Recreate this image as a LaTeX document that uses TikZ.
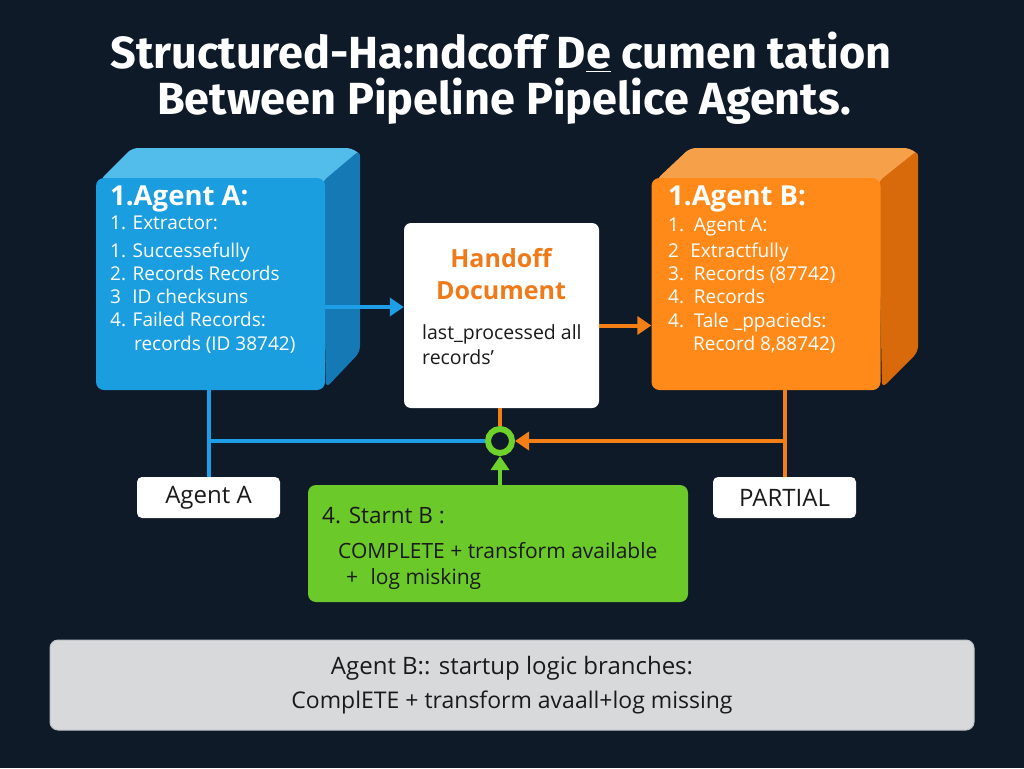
\documentclass[tikz,border=0pt]{standalone}
\usepackage{fontspec}
\setmainfont{Open Sans}
\newfontfamily\titlefont{Fira Sans}
\usetikzlibrary{arrows.meta,calc}
\definecolor{bg}{HTML}{0E1A28}
\definecolor{bfront}{HTML}{1B9EE0}
\definecolor{btop}{HTML}{52BDEA}
\definecolor{bside}{HTML}{1479B5}
\definecolor{ofront}{HTML}{FF8A1A}
\definecolor{otop}{HTML}{F7A04A}
\definecolor{oside}{HTML}{D86A0C}
\definecolor{bline}{HTML}{1E9EE6}
\definecolor{oline}{HTML}{F57F17}
\definecolor{gbox}{HTML}{6CC92A}
\definecolor{gring}{HTML}{6FD22C}
\definecolor{graybox}{HTML}{D8D9DB}
\definecolor{grayedge}{HTML}{BFC2C5}
\definecolor{ink}{HTML}{1A1A1A}
\definecolor{hor}{HTML}{F07A1A}
\tikzset{
  front/.style={minimum width=229pt,minimum height=212pt,rounded corners=8pt,inner sep=0pt},
  label/.style={fill=white,rounded corners=5pt,minimum width=143pt,minimum height=41pt,inner sep=0pt,font=\fontsize{24}{28}\selectfont,text=ink},
  boxtext/.style={anchor=base west,text=white,inner sep=0pt,font=\fontsize{19}{22}\selectfont},
  boxhead/.style={anchor=base west,text=white,inner sep=0pt,font=\fontsize{27.5}{30}\bfseries\selectfont},
  conn/.style={line width=4pt},
  tip/.style={-{Triangle[length=14pt,width=18pt]}},
  titletext/.style={text=white,inner sep=0pt,font=\titlefont\fontsize{45}{50}\bfseries\selectfont}
}
\begin{document}
\begin{tikzpicture}[x=1pt,y=-1pt]
\fill[bg] (0,0) rectangle (1024,768);
\useasboundingbox (0,0) rectangle (1024,768);

% title
\node[titletext] (t1) at (501,52) {Structured-Ha:ndcoff D\underline{e} cumen tation};
\node[titletext] (t2) at (504,101) {Between Pipeline Pipelice Agents.};

% blue cube
\fill[btop,rounded corners=6pt] (100,180) -- (132,148) -- (352,148) -- (362,156) -- (330,186) -- cycle;
\fill[bside,rounded corners=6pt] (322,182) -- (360,150) -- (360,352) -- (326,388) -- cycle;
\node[front,fill=bfront] (ablue) at (210.5,284) {};
\node[boxhead] (a0) at (110,205) {1.Agent A:};
\node[boxtext] (a1) at (110,229) {1. Extractor:};
\node[boxtext] (a2) at (110,257) {1. Successefully};
\node[boxtext] (a3) at (110,280) {2. Records Records};
\node[boxtext] (a4) at (110,303) {3\,\, ID checksuns};
\node[boxtext] (a5) at (110,326) {4. Failed Records:};
\node[boxtext] (a6) at (134,350) {records (ID 38742)};

% orange cube
\fill[otop,rounded corners=6pt] (656,180) -- (690,148) -- (910,148) -- (920,156) -- (886,186) -- cycle;
\fill[oside,rounded corners=6pt] (878,182) -- (918,150) -- (918,352) -- (882,388) -- cycle;
\node[front,fill=ofront] (borange) at (766,284) {};
\node[boxhead] (b0) at (668,205) {1.Agent B:};
\node[boxtext] (b1) at (668,231) {1.\, Agent A:};
\node[boxtext] (b2) at (668,257) {2\,\, Extractfully};
\node[boxtext] (b3) at (668,280) {3.\, Records (87742)};
\node[boxtext] (b4) at (668,303) {4.\, Records};
\node[boxtext] (b5) at (668,327) {4.\, Tale \_ppacieds:};
\node[boxtext] (b6) at (693,350) {Record 8,88742)};

% handoff document
\node[fill=white,rounded corners=7pt,minimum width=195pt,minimum height=185pt,inner sep=0pt] (hand) at (501.5,315.5) {};
\node[text=hor,inner sep=0pt,font=\fontsize{25}{28}\bfseries\selectfont] (h1) at (501,258) {Handoff};
\node[text=hor,inner sep=0pt,font=\fontsize{25}{28}\bfseries\selectfont] (h2) at (501,291) {Document};
\node[anchor=base west,text=ink,inner sep=0pt,font=\fontsize{19.5}{22}\selectfont] (h3) at (422,339) {last\_processed all};
\node[anchor=base west,text=ink,inner sep=0pt,font=\fontsize{19.5}{22}\selectfont] (h4) at (422,364) {records’};

% labels
\node[label] (la) at (208.5,497.5) {Agent A};
\node[label] (lp) at (784.5,497.5) {PARTIAL};

% junction ring
\node[circle,draw=gring,line width=6pt,fill=bg,minimum size=24pt,inner sep=0pt] (junc) at (500,441) {};

% green box
\node[fill=gbox,rounded corners=8pt,minimum width=380pt,minimum height=117pt,inner sep=0pt] (green) at (498,543.5) {};
\node[anchor=base west,text=ink,inner sep=0pt,font=\fontsize{22.5}{26}\selectfont] (g1) at (322,523) {4. Starnt B :};
\node[anchor=base west,text=ink,inner sep=0pt,font=\fontsize{21}{24}\selectfont] (g2) at (338,558) {COMPLETE + transform available};
\node[anchor=base west,text=ink,inner sep=0pt,font=\fontsize{21}{24}\selectfont] (g3) at (346,584) {+\,\, log misking};

% bottom gray box
\node[fill=graybox,draw=grayedge,line width=1pt,rounded corners=8pt,minimum width=924pt,minimum height=90pt,inner sep=0pt] (gray) at (512,685) {};
\node[text=ink,inner sep=0pt,font=\fontsize{24}{28}\selectfont] (s1) at (512,668) {Agent B:: startup logic branches:};
\node[text=ink,inner sep=0pt,font=\fontsize{23}{27}\selectfont] (s2) at (512,702) {ComplETE + transform avaall+log missing};

% connectors
\draw[conn,bline,tip] ([yshift=-23pt]ablue.east) -- ([yshift=-23pt]ablue.east -| hand.west);
\draw[conn,oline,tip] ([yshift=-10pt]hand.east) -- ([yshift=-10pt]hand.east -| borange.west);
\draw[conn,bline] (la.north |- ablue.south) -- (la.north);
\draw[conn,bline] (la.north |- junc) -- (junc.west);
\draw[conn,oline] (lp.north |- borange.south) -- (lp.north);
\draw[conn,oline,tip] (lp.north |- junc) -- (junc.east);
\draw[conn,oline] (hand.south -| junc) -- (junc.north);
\draw[conn,gring,tip] (junc.south |- green.north) -- (junc.south);
\end{tikzpicture}
\end{document}
